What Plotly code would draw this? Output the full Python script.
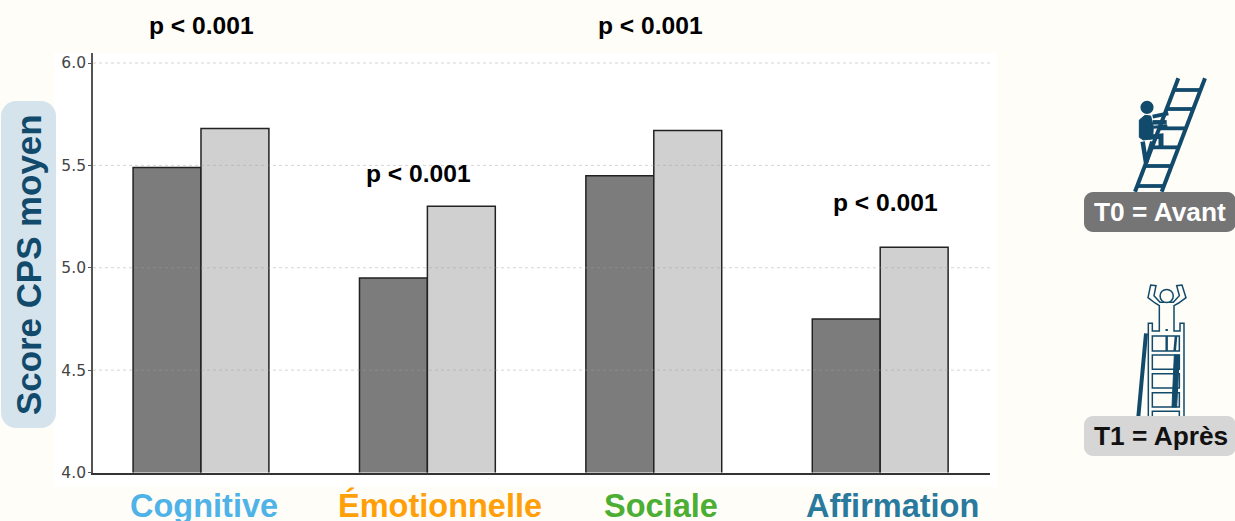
import plotly.graph_objects as go

W, H = 1235, 521
categories = ["Cognitive", "Émotionnelle", "Sociale", "Affirmation"]
cat_colors = ["#4fb3e8", "#ff9f0a", "#4cae33", "#2a7a9e"]
t0_values = [5.49, 4.95, 5.45, 4.75]
t1_values = [5.68, 5.30, 5.67, 5.10]
y_ticks = [4.0, 4.5, 5.0, 5.5, 6.0]
p_labels = ["p < 0.001", "p < 0.001", "p < 0.001", "p < 0.001"]

BG = "#fffdf7"
NAVY = "#124a6b"
SANS = "Liberation Sans, Arial, sans-serif"


def fx(x):
    return x / W


def fy(y):
    return 1 - y / H


def path_of(points, close=False):
    s = "M" + " L".join(f"{fx(x):.5f},{fy(y):.5f}" for x, y in points)
    return s + (" Z" if close else "")


def rounded(x0, y0, x1, y1, r, fill):
    c = r * 0.45
    d = (
        f"M{fx(x0+r):.5f},{fy(y0):.5f} L{fx(x1-r):.5f},{fy(y0):.5f} "
        f"C{fx(x1-c):.5f},{fy(y0):.5f} {fx(x1):.5f},{fy(y0+c):.5f} {fx(x1):.5f},{fy(y0+r):.5f} "
        f"L{fx(x1):.5f},{fy(y1-r):.5f} "
        f"C{fx(x1):.5f},{fy(y1-c):.5f} {fx(x1-c):.5f},{fy(y1):.5f} {fx(x1-r):.5f},{fy(y1):.5f} "
        f"L{fx(x0+r):.5f},{fy(y1):.5f} "
        f"C{fx(x0+c):.5f},{fy(y1):.5f} {fx(x0):.5f},{fy(y1-c):.5f} {fx(x0):.5f},{fy(y1-r):.5f} "
        f"L{fx(x0):.5f},{fy(y0+r):.5f} "
        f"C{fx(x0):.5f},{fy(y0+c):.5f} {fx(x0+c):.5f},{fy(y0):.5f} {fx(x0+r):.5f},{fy(y0):.5f} Z"
    )
    return dict(type="path", xref="paper", yref="paper", path=d, fillcolor=fill, line=dict(width=0), layer="above")


def seg(points, width, color=NAVY, fill=None, close=False):
    return dict(
        type="path", xref="paper", yref="paper", path=path_of(points, close),
        line=dict(color=color, width=width), fillcolor=fill or "rgba(0,0,0,0)", layer="above",
    )


def circle(cx, cy, r, fill, line_w=0):
    return dict(
        type="circle", xref="paper", yref="paper", x0=fx(cx - r), x1=fx(cx + r), y0=fy(cy + r), y1=fy(cy - r),
        fillcolor=fill, line=dict(color=NAVY, width=line_w), layer="above",
    )


def z0(x, y):
    return (1060 + x / 3, 60 + y / 3)


def z1(x, y):
    return (1060 + x / 3, 275 + y / 3)


shapes = [
    dict(type="rect", xref="paper", yref="paper", x0=fx(54), x1=fx(997), y0=fy(487), y1=fy(53),
         fillcolor="white", line=dict(width=0), layer="below"),
]
# gridlines sit over the bars
for v in y_ticks[1:]:
    shapes.append(dict(type="line", xref="paper", yref="y", x0=fx(93), x1=fx(990), y0=v, y1=v,
                       line=dict(color="rgba(160,160,160,0.45)", width=1, dash="dot"), layer="above"))

shapes.append(rounded(1, 101, 56, 428, 15, "#d5e4ec"))

# T0 icon: ladder and climber
shapes.append(seg([z0(225, 395), z0(355, 55)], 4))
shapes.append(seg([z0(305, 395), z0(435, 55)], 4))
for zy in [90, 147, 205, 262, 318, 378]:
    t = (395 - zy) / 340
    shapes.append(seg([z0(225 + 130 * t, zy), z0(305 + 130 * t, zy)], 3.8))
shapes.append(circle(*z0(261, 142), 6.6, NAVY))
shapes.append(seg([z0(255, 166), z0(272, 168), z0(280, 200), z0(278, 236), z0(250, 240), z0(238, 232), z0(238, 180)],
                  1, fill=NAVY, close=True))
shapes.append(seg([z0(278, 170), z0(325, 160)], 4))
shapes.append(seg([z0(278, 187), z0(320, 187)], 4.5))
shapes.append(seg([z0(280, 202), z0(322, 198)], 3))
shapes.append(seg([z0(265, 232), z0(303, 228), z0(303, 265)], 5))
shapes.append(seg([z0(248, 245), z0(258, 308), z0(277, 245)], 4.5))

# T1 icon: ladder and person from behind
shapes.append(seg([z1(235, 425), z1(258, 175)], 4))
shapes.append(seg([
    z1(265, 425), z1(265, 145), z1(277, 145), z1(277, 168), z1(298, 168), z1(298, 92), z1(285, 84),
    z1(264, 68), z1(272, 30), z1(288, 32), z1(282, 62), z1(300, 82), z1(340, 82), z1(358, 62),
    z1(350, 32), z1(366, 30), z1(378, 68), z1(356, 84), z1(342, 92), z1(342, 168), z1(360, 168),
    z1(360, 145), z1(372, 145), z1(372, 425),
], 1.5, fill=BG))
shapes.append(circle(*z1(320, 63), 6.6, BG, 1.5))
for y0_, y1_ in [(183, 228), (240, 283), (296, 339), (353, 396), (409, 425)]:
    shapes.append(seg([z1(277, y0_), z1(358, y0_), z1(358, y1_), z1(277, y1_)], 1.5, fill=BG, close=True))
shapes.append(seg([z1(343, 240), z1(358, 240), z1(350, 396), z1(336, 396)], 1, fill=NAVY, close=True))
shapes.append(seg([z1(320, 183), z1(320, 228)], 2.4))
shapes.append(seg([z1(348, 183), z1(344, 228)], 2.6))
shapes.append(seg([z1(320, 162), z1(320, 168)], 2.4))

# legend pills
shapes.append(rounded(1084, 192, 1236, 232, 9, "#757575"))
shapes.append(rounded(1084, 416, 1236, 456, 9, "#d6d6d6"))


def note(text, x, y, size, color="black", angle=0, font=SANS):
    return dict(text=f"<b>{text}</b>", xref="paper", yref="paper", x=fx(x), y=fy(y), xanchor="center", yanchor="middle",
                showarrow=False, font=dict(family=font, size=size, color=color), textangle=angle)


annotations = [
    note(p_labels[0], 201.5, 25, 24.6),
    note(p_labels[1], 418.5, 174, 24.6),
    note(p_labels[2], 650.5, 25, 24.6),
    note(p_labels[3], 885.5, 203, 24.6),
    note("Score CPS moyen", 28, 265, 34.9, NAVY, -90),
    note("T0 = Avant", 1160, 212, 26.3, "white"),
    note("T1 = Après", 1161, 436, 26.3, "#111111"),
]
for name, col, cx in zip(categories, cat_colors, [204, 439.5, 661, 892]):
    annotations.append(note(name, cx, 505.5, 32.5, col))

fig = go.Figure()
fig.add_bar(x=categories, y=t0_values, name="T0", marker=dict(color="#7c7c7c", line=dict(color="#222222", width=1.5)))
fig.add_bar(x=categories, y=t1_values, name="T1", marker=dict(color="#d0d0d0", line=dict(color="#222222", width=1.5)))

fig.update_layout(
    width=W, height=H, autosize=False,
    margin=dict(l=0, r=0, t=0, b=0, pad=0),
    paper_bgcolor=BG, plot_bgcolor="rgba(0,0,0,0)",
    showlegend=False, barmode="group", bargap=0.4, bargroupgap=0,
    shapes=shapes, annotations=annotations,
    xaxis=dict(
        domain=[fx(93), fx(990)], range=[-0.477, 3.485], type="category",
        tickmode="array", tickvals=categories, showticklabels=False, automargin=False,
        ticks="",
        showgrid=False, zeroline=False, showline=True, linecolor="#333333", linewidth=1.6, anchor="y",
    ),
    yaxis=dict(
        domain=[fy(472.5), fy(53)], range=[4.0, 6.049], automargin=False,
        tickmode="array", tickvals=y_ticks, ticktext=[f"{v:.1f}" for v in y_ticks],
        tickfont=dict(family="DejaVu Sans", size=15.5, color="#444444"),
        ticks="outside", ticklen=3, tickcolor="#555555", ticklabelstandoff=-1,
        showgrid=False, zeroline=False, showline=True, linecolor="#555555", linewidth=1.8, anchor="x",
    ),
)

fig.write_html(
    "out.html",
    config={"displayModeBar": False},
    post_script="document.body.style.margin='0';document.body.style.overflow='hidden';",
)
